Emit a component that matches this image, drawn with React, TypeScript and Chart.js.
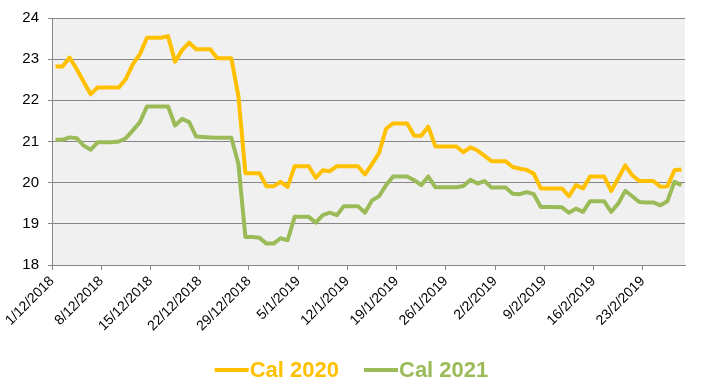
import React, { useEffect, useRef } from "react";
import { Chart, registerables } from "chart.js";

Chart.register(...registerables);

// Daily settlement values, 1/12/2018 .. 28/2/2019 (90 days)
const cal2020 = [
  22.82, 22.82, 23.04, 22.76, 22.45, 22.15, 22.31, 22.31, 22.31, 22.31,
  22.52, 22.88, 23.12, 23.52, 23.52, 23.52, 23.56, 22.94, 23.22, 23.40,
  23.24, 23.24, 23.24, 23.02, 23.02, 23.02, 22.11, 20.23, 20.23, 20.23,
  19.91, 19.91, 20.02, 19.90, 20.40, 20.40, 20.40, 20.12, 20.30, 20.28,
  20.40, 20.40, 20.40, 20.40, 20.20, 20.45, 20.72, 21.31, 21.44, 21.44,
  21.44, 21.14, 21.14, 21.36, 20.88, 20.88, 20.88, 20.88, 20.74, 20.86,
  20.78, 20.65, 20.52, 20.52, 20.52, 20.38, 20.34, 20.31, 20.22, 19.86,
  19.86, 19.86, 19.86, 19.67, 19.94, 19.86, 20.15, 20.15, 20.15, 19.80,
  20.10, 20.42, 20.18, 20.04, 20.04, 20.04, 19.90, 19.91, 20.30, 20.32,
];

const cal2021 = [
  21.04, 21.04, 21.10, 21.08, 20.90, 20.80, 20.98, 20.98, 20.98, 21.00,
  21.08, 21.27, 21.47, 21.85, 21.85, 21.85, 21.85, 21.39, 21.55, 21.47,
  21.12, 21.11, 21.10, 21.09, 21.09, 21.09, 20.46, 18.68, 18.68, 18.66,
  18.52, 18.52, 18.65, 18.60, 19.17, 19.17, 19.17, 19.03, 19.21, 19.27,
  19.21, 19.43, 19.43, 19.43, 19.27, 19.57, 19.67, 19.94, 20.15, 20.15,
  20.15, 20.06, 19.94, 20.15, 19.89, 19.89, 19.89, 19.89, 19.92, 20.07,
  19.98, 20.04, 19.88, 19.88, 19.88, 19.73, 19.72, 19.77, 19.72, 19.41,
  19.41, 19.41, 19.40, 19.27, 19.37, 19.29, 19.55, 19.55, 19.55, 19.29,
  19.49, 19.80, 19.67, 19.53, 19.52, 19.52, 19.45, 19.55, 20.02, 19.94,
];

const tickLabels = [
  "1/12/2018", "8/12/2018", "15/12/2018", "22/12/2018", "29/12/2018",
  "5/1/2019", "12/1/2019", "19/1/2019", "26/1/2019", "2/2/2019",
  "9/2/2019", "16/2/2019", "23/2/2019",
];

const seriesNames = ["Cal 2020", "Cal 2021"];
const seriesColors = ["#FFC000", "#9BBB59"];

const FONT = "'Liberation Sans', Arial, sans-serif";
const GRID = "#868686";

// each value sits in the middle of its day on a day-count axis
const toPoints = (vals: number[]) => vals.map((v, i) => ({ x: i + 0.5, y: v }));

const bgPlugin = {
  id: "bgPlugin",
  beforeDraw(chart: any) {
    const { ctx, chartArea, width, height } = chart;
    ctx.save();
    ctx.fillStyle = "#ffffff";
    ctx.fillRect(0, 0, width, height);
    ctx.fillStyle = "#F0F0F0";
    ctx.fillRect(chartArea.left, chartArea.top, chartArea.right - chartArea.left, chartArea.bottom - chartArea.top);
    ctx.restore();
  },
};

const legendPlugin = {
  id: "customLegend",
  afterDraw(chart: any) {
    const ctx = chart.ctx;
    ctx.save();
    ctx.font = `bold 22px ${FONT}`;
    ctx.textBaseline = "middle";
    const lineLen = 34;
    const gap = 25;
    const widths = seriesNames.map((n) => ctx.measureText(n).width);
    const total = widths.reduce((a, w) => a + lineLen + 1 + w, 0) + gap * (seriesNames.length - 1);
    let x = chart.width / 2 - total / 2;
    const y = 370;
    seriesNames.forEach((name, i) => {
      ctx.strokeStyle = seriesColors[i];
      ctx.lineWidth = 4;
      ctx.beginPath();
      ctx.moveTo(x, y);
      ctx.lineTo(x + lineLen, y);
      ctx.stroke();
      ctx.fillStyle = seriesColors[i];
      ctx.fillText(name, x + lineLen + 1, y + 1);
      x += lineLen + 1 + widths[i] + gap;
    });
    ctx.restore();
  },
};

export default function App() {
  const ref = useRef<HTMLCanvasElement | null>(null);

  useEffect(() => {
    document.body.style.margin = "0";
    const canvas = ref.current;
    if (!canvas) return;
    const chart = new Chart(canvas, {
      type: "line",
      data: {
        datasets: [
          {
            label: seriesNames[0],
            data: toPoints(cal2020),
            borderColor: seriesColors[0],
            backgroundColor: seriesColors[0],
            borderWidth: 4,
            pointRadius: 0,
            tension: 0,
            borderJoinStyle: "round",
            order: 2,
          },
          {
            label: seriesNames[1],
            data: toPoints(cal2021),
            borderColor: seriesColors[1],
            backgroundColor: seriesColors[1],
            borderWidth: 4,
            pointRadius: 0,
            tension: 0,
            borderJoinStyle: "round",
            order: 1,
          },
        ],
      },
      options: {
        responsive: false,
        animation: false,
        devicePixelRatio: 1,
        layout: { padding: { left: 0, right: 18, top: 17, bottom: 40 } },
        plugins: {
          legend: { display: false },
          tooltip: { enabled: false },
        },
        scales: {
          x: {
            type: "linear",
            min: 0,
            max: 90,
            afterFit: (s: any) => {
              s.height = 81;
            },
            ticks: {
              stepSize: 7,
              includeBounds: false,
              autoSkip: false,
              maxRotation: 45,
              minRotation: 45,
              padding: 3,
              color: "#000000",
              font: { family: FONT, size: 14 },
              callback: (v: any) => tickLabels[Math.round(Number(v) / 7)] ?? "",
            },
            grid: {
              drawOnChartArea: false,
              drawTicks: true,
              tickLength: 5,
              color: GRID,
            },
            border: { display: true, color: GRID, width: 1 },
          },
          y: {
            min: 18,
            max: 24,
            afterFit: (s: any) => {
              s.width = 52;
            },
            ticks: {
              stepSize: 1,
              padding: 9,
              color: "#000000",
              font: { family: FONT, size: 15 },
            },
            grid: {
              color: GRID,
              lineWidth: 1,
              drawTicks: true,
              tickLength: 4,
            },
            border: { display: true, color: GRID, width: 1 },
          },
        },
      },
      plugins: [bgPlugin, legendPlugin],
    } as any);
    return () => chart.destroy();
  }, []);

  return (
    <div style={{ position: "absolute", left: 0, top: 0, width: 703, height: 386 }}>
      <canvas ref={ref} width={703} height={386} style={{ width: 703, height: 386, display: "block" }} />
    </div>
  );
}
